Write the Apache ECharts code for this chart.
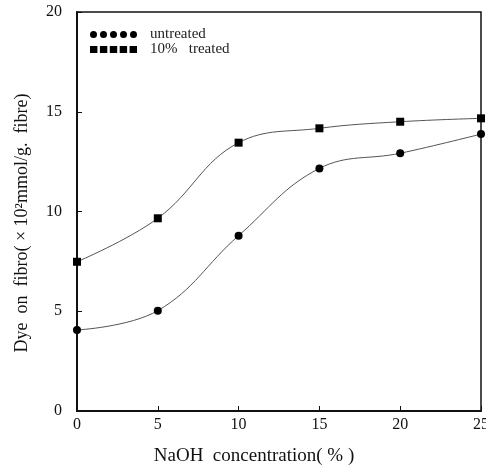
<!DOCTYPE html>
<html>
<head>
<meta charset="utf-8">
<script src="https://cdn.jsdelivr.net/npm/echarts@6/dist/echarts.min.js"></script>
<style>
  html, body { margin: 0; padding: 0; background: #fff; }
  #chart { width: 486px; height: 471px; }
</style>
</head>
<body>
<div id="chart"></div>
<script>
// NaOH concentration (%) on the x axis
const naohConc = [0, 5, 10, 15, 20, 25];
// Dye uptake (x10^-2 mmol/g fibre)
const untreated = [4.06, 5.03, 8.79, 12.16, 12.92, 13.88];
const treated10 = [7.48, 9.66, 13.45, 14.17, 14.5, 14.67];
const seriesNames = ['untreated', '10%   treated'];
const xTicks = [0, 5, 10, 15, 20, 25];
const yTicks = [0, 5, 10, 15, 20];

const FONT = '"Liberation Serif", "DejaVu Serif", serif';

// five dots / five squares in a row for the legend keys
function rowOfDots() {
  let p = '';
  for (let i = 0; i < 5; i++) {
    const cx = 3.5 + i * 10;
    p += `M${cx - 3.5},3.5 A3.5,3.5 0 1,0 ${cx + 3.5},3.5 A3.5,3.5 0 1,0 ${cx - 3.5},3.5 Z `;
  }
  return 'path://' + p;
}
function rowOfSquares() {
  let p = '';
  for (let i = 0; i < 5; i++) {
    const x = i * 10;
    p += `M${x},0 L${x + 7.5},0 L${x + 7.5},7 L${x},7 Z `;
  }
  return 'path://' + p;
}

const chart = echarts.init(document.getElementById('chart'), null, { renderer: 'canvas' });

const pairs = (ys) => naohConc.map((x, i) => [x, ys[i]]);

chart.setOption({
  animation: false,
  backgroundColor: '#fff',
  textStyle: { fontFamily: FONT, color: '#111' },
  grid: {
    left: 77, right: 5, top: 12, bottom: 60,
    containLabel: false, outerBoundsMode: 'none',
    show: true, borderColor: '#111', borderWidth: 1.5
  },
  legend: {
    left: 90, top: 27, orient: 'vertical', padding: 0,
    itemWidth: 47, itemHeight: 7, itemGap: 0,
    textStyle: { fontFamily: FONT, fontSize: 15, color: '#222', padding: [0, 0, 0, 8] },
    data: [
      { name: seriesNames[0], icon: rowOfDots() },
      { name: seriesNames[1], icon: rowOfSquares() }
    ]
  },
  xAxis: {
    type: 'value', min: 0, max: 25, interval: 5,
    name: 'NaOH  concentration( % )',
    nameLocation: 'middle', nameGap: 36,
    nameTextStyle: { fontFamily: FONT, fontSize: 19, color: '#111', padding: [0, 50, 0, 0] },
    axisLine: { show: true, lineStyle: { color: '#111', width: 2 } },
    axisTick: { show: true, inside: true, length: 5, lineStyle: { color: '#111', width: 1 } },
    axisLabel: {
      margin: 6, fontFamily: FONT, fontSize: 16, color: '#111',
      formatter: (v) => xTicks.includes(v) ? String(v) : ''
    },
    splitLine: { show: false }
  },
  yAxis: {
    type: 'value', min: 0, max: 20, interval: 5,
    name: 'Dye  on  fibro( × 10²mmol/g.  fibre)',
    nameLocation: 'middle', nameGap: 46,
    nameTextStyle: { fontFamily: FONT, fontSize: 18, color: '#111', padding: [0, 23, 0, 0] },
    axisLine: { show: true, lineStyle: { color: '#111', width: 2 } },
    axisTick: { show: true, inside: true, length: 5, lineStyle: { color: '#111', width: 1 } },
    axisLabel: {
      margin: 15, fontFamily: FONT, fontSize: 16, color: '#111',
      formatter: (v) => yTicks.includes(v) ? String(v) : ''
    },
    splitLine: { show: false }
  },
  series: [
    {
      name: seriesNames[0], type: 'line', smooth: 0.4,
      data: pairs(untreated),
      symbol: 'circle', symbolSize: 8,
      itemStyle: { color: '#000' },
      lineStyle: { color: '#555', width: 1 },
      clip: false, z: 3
    },
    {
      name: seriesNames[1], type: 'line', smooth: 0.4,
      data: pairs(treated10),
      symbol: 'rect', symbolSize: 8,
      itemStyle: { color: '#000' },
      lineStyle: { color: '#555', width: 1 },
      clip: false, z: 3
    }
  ]
});
</script>
</body>
</html>
